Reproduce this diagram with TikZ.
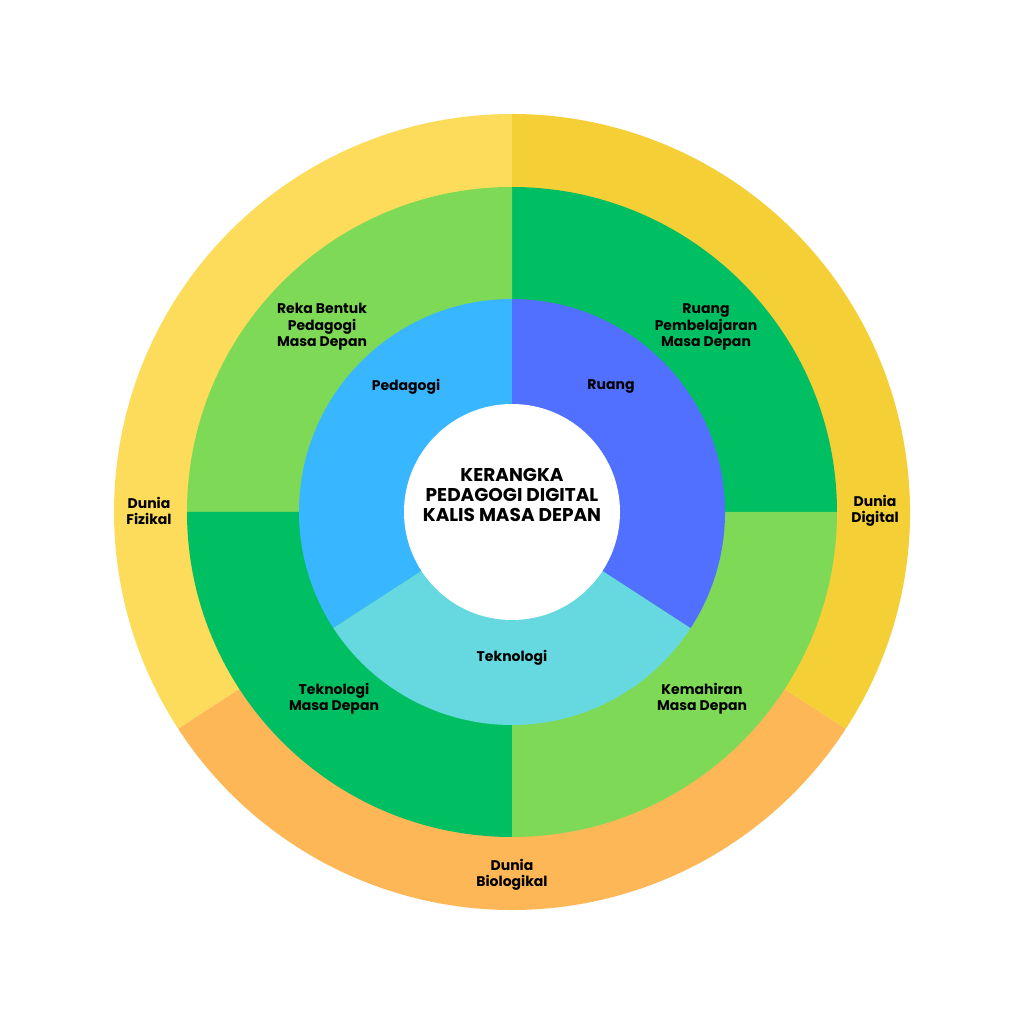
\documentclass[tikz,border=0pt]{standalone}
\usepackage{fontspec}
\setmainfont{Poppins}

\definecolor{sunLight}{HTML}{FDDC5B}
\definecolor{sunDark}{HTML}{F4CF35}
\definecolor{orangeBio}{HTML}{FDB757}
\definecolor{greenLight}{HTML}{7ED957}
\definecolor{greenDark}{HTML}{00BF63}
\definecolor{blueSky}{HTML}{38B6FF}
\definecolor{blueRoyal}{HTML}{5170FF}
\definecolor{cyanTech}{HTML}{66D9E0}

\begin{document}
\begin{tikzpicture}[
			x=1pt, y=1pt,
			label/.style={align=center, text=black, font=\bfseries\fontsize{14}{16.5}\selectfont},
			title/.style={align=center, text=black, font=\bfseries\fontsize{18.5}{20}\selectfont}
		]
			\useasboundingbox[fill=white] (-512,-512) rectangle (512,512);
			
			% outer ring: the three worlds
			\fill[sunLight] (0,0) -- (90:398) arc[start angle=90, end angle=213, radius=398] -- cycle;
			\fill[orangeBio] (0,0) -- (213:398) arc[start angle=213, end angle=327, radius=398] -- cycle;
			\fill[sunDark] (0,0) -- (-33:398) arc[start angle=-33, end angle=90, radius=398] -- cycle;
			
			% middle ring: four quadrants
			\fill[greenDark] (0,0) -- (0:325) arc[start angle=0, end angle=90, radius=325] -- cycle;
			\fill[greenLight] (0,0) -- (90:325) arc[start angle=90, end angle=180, radius=325] -- cycle;
			\fill[greenDark] (0,0) -- (180:325) arc[start angle=180, end angle=270, radius=325] -- cycle;
			\fill[greenLight] (0,0) -- (270:325) arc[start angle=270, end angle=360, radius=325] -- cycle;
			
			% inner ring
			\fill[blueSky] (0,0) -- (90:213) arc[start angle=90, end angle=213, radius=213] -- cycle;
			\fill[cyanTech] (0,0) -- (213:213) arc[start angle=213, end angle=327, radius=213] -- cycle;
			\fill[blueRoyal] (0,0) -- (-33:213) arc[start angle=-33, end angle=90, radius=213] -- cycle;
			
			\fill[white] (0,0) circle (108);
			
			\node[title] (kerangka) at (0, 17) {KERANGKA\\PEDAGOGI DIGITAL\\KALIS MASA DEPAN};
			
			\node[label] (pedagogi) at (-106, 125) {Pedagogi};
			\node[label] (ruang) at (99, 125) {Ruang};
			\node[label] (teknologi) at (0, -146) {Teknologi};
			
			\node[label] (rekabentuk) at (-190, 185) {Reka Bentuk\\Pedagogi\\Masa Depan};
			\node[label] (ruangbelajar) at (194, 185) {Ruang\\Pembelajaran\\Masa Depan};
			\node[label] (teknologimd) at (-178, -187) {Teknologi\\Masa Depan};
			\node[label] (kemahiran) at (190, -187) {Kemahiran\\Masa Depan};
			
			\node[label] (fizikal) at (-363, 1) {Dunia\\Fizikal};
			\node[label] (digital) at (363, 1) {Dunia\\Digital};
			\node[label] (biologikal) at (0, -363) {Dunia\\Biologikal};
		\end{tikzpicture}
\end{document}
